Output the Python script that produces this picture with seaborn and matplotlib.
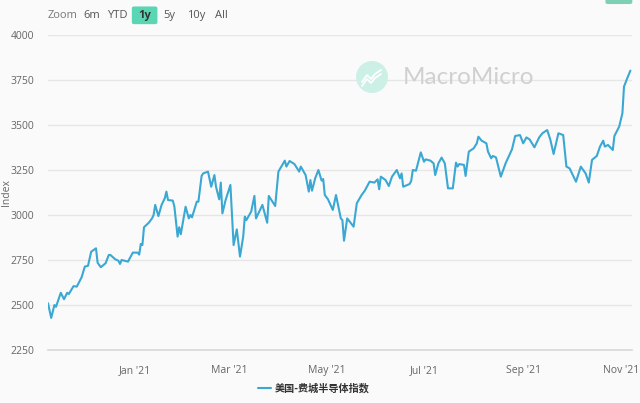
import pandas as pd
import seaborn as sns
import matplotlib.pyplot as plt
import matplotlib.dates as mdates
from matplotlib.patches import Ellipse, FancyBboxPatch
from matplotlib.lines import Line2D

# 美国-费城半导体指数
dates = [
    "2020-11-08", "2020-11-10", "2020-11-12", "2020-11-13", "2020-11-16", "2020-11-18",
    "2020-11-20", "2020-11-21", "2020-11-24", "2020-11-26", "2020-11-29", "2020-12-01",
    "2020-12-03", "2020-12-05", "2020-12-08", "2020-12-09", "2020-12-11", "2020-12-14",
    "2020-12-16", "2020-12-17", "2020-12-20", "2020-12-22", "2020-12-23", "2020-12-24",
    "2020-12-28", "2020-12-31", "2021-01-03", "2021-01-04", "2021-01-05", "2021-01-06",
    "2021-01-07", "2021-01-10", "2021-01-12", "2021-01-13", "2021-01-14", "2021-01-16",
    "2021-01-18", "2021-01-20", "2021-01-21", "2021-01-22", "2021-01-25", "2021-01-26",
    "2021-01-28", "2021-01-29", "2021-01-30", "2021-02-02", "2021-02-04", "2021-02-05",
    "2021-02-06", "2021-02-09", "2021-02-10", "2021-02-12", "2021-02-13", "2021-02-16",
    "2021-02-18", "2021-02-20", "2021-02-21", "2021-02-23", "2021-02-24", "2021-02-25",
    "2021-02-27", "2021-03-02", "2021-03-04", "2021-03-06", "2021-03-08", "2021-03-10",
    "2021-03-11", "2021-03-12", "2021-03-15", "2021-03-17", "2021-03-18", "2021-03-22",
    "2021-03-25", "2021-03-26", "2021-03-30", "2021-04-01", "2021-04-05", "2021-04-06",
    "2021-04-08", "2021-04-11", "2021-04-14", "2021-04-15", "2021-04-18", "2021-04-20",
    "2021-04-21", "2021-04-22", "2021-04-24", "2021-04-26", "2021-04-28", "2021-04-29",
    "2021-04-30", "2021-05-02", "2021-05-05", "2021-05-07", "2021-05-10", "2021-05-11",
    "2021-05-12", "2021-05-14", "2021-05-18", "2021-05-20", "2021-05-23", "2021-05-25",
    "2021-05-28", "2021-05-31", "2021-06-02", "2021-06-03", "2021-06-04", "2021-06-07",
    "2021-06-09", "2021-06-11", "2021-06-14", "2021-06-16", "2021-06-17", "2021-06-18",
    "2021-06-22", "2021-06-23", "2021-06-24", "2021-06-26", "2021-06-29", "2021-07-01",
    "2021-07-02", "2021-07-05", "2021-07-07", "2021-07-08", "2021-07-10", "2021-07-12",
    "2021-07-14", "2021-07-16", "2021-07-19", "2021-07-21", "2021-07-22", "2021-07-23",
    "2021-07-26", "2021-07-27", "2021-07-29", "2021-08-01", "2021-08-03", "2021-08-04",
    "2021-08-06", "2021-08-09", "2021-08-10", "2021-08-12", "2021-08-13", "2021-08-15",
    "2021-08-18", "2021-08-21", "2021-08-24", "2021-08-25", "2021-08-27", "2021-08-30",
    "2021-09-01", "2021-09-03", "2021-09-05", "2021-09-08", "2021-09-11", "2021-09-13",
    "2021-09-16", "2021-09-18", "2021-09-20", "2021-09-23", "2021-09-26", "2021-09-28",
    "2021-09-30", "2021-10-04", "2021-10-07", "2021-10-10", "2021-10-12", "2021-10-14",
    "2021-10-17", "2021-10-19", "2021-10-21", "2021-10-22", "2021-10-24", "2021-10-27",
    "2021-10-28", "2021-10-31", "2021-11-02", "2021-11-03", "2021-11-05", "2021-11-07",
]
values = [
    2510, 2428, 2500, 2490, 2568, 2532, 2568, 2561, 2605, 2602, 2654, 2713,
    2718, 2796, 2815, 2735, 2710, 2732, 2778, 2778, 2754, 2746, 2728, 2750,
    2741, 2791, 2791, 2780, 2839, 2833, 2932, 2957, 2981, 3000, 3056, 2994,
    3056, 3093, 3130, 3083, 3080, 3046, 2880, 2932, 2893, 3046, 2981, 3000,
    2987, 3074, 3074, 3217, 3231, 3241, 3157, 3222, 3157, 3087, 3180, 3009,
    3083, 3167, 2833, 2920, 2769, 2880, 2991, 2972, 3019, 3106, 2981, 3056,
    2957, 3106, 3050, 3241, 3302, 3269, 3300, 3283, 3241, 3269, 3222, 3130,
    3194, 3135, 3204, 3250, 3191, 3200, 3111, 3087, 3028, 3111, 2981, 2972,
    2857, 2981, 2935, 3065, 3111, 3135, 3185, 3180, 3198, 3143, 3213, 3194,
    3161, 3213, 3250, 3204, 3231, 3157, 3172, 3189, 3250, 3246, 3348, 3296,
    3309, 3302, 3287, 3222, 3287, 3319, 3287, 3148, 3148, 3291, 3269, 3283,
    3278, 3217, 3352, 3370, 3398, 3435, 3413, 3398, 3352, 3315, 3328, 3320,
    3213, 3287, 3346, 3365, 3439, 3444, 3398, 3431, 3420, 3376, 3431, 3454,
    3472, 3417, 3339, 3454, 3444, 3269, 3259, 3185, 3269, 3231, 3180, 3306,
    3328, 3380, 3413, 3380, 3389, 3361, 3439, 3491, 3565, 3713, 3759, 3802,
]
y_ticks = [2250, 2500, 2750, 3000, 3250, 3500, 3750, 4000]
x_ticks = ["2021-01-01", "2021-03-01", "2021-05-01", "2021-07-01", "2021-09-01", "2021-11-01"]
series_name = "美国-费城半导体指数"
range_buttons = ["6m", "YTD", "1y", "5y", "10y", "All"]

df = pd.DataFrame({"date": pd.to_datetime(dates), "value": values, "series": series_name})

sns.set_theme(style="white")
plt.rcParams["font.family"] = ["Open Sans", "Noto Sans CJK SC", "DejaVu Sans"]

fig = plt.figure(figsize=(6.4, 4.03), dpi=100, facecolor="#fafafa")
ax = fig.add_axes([0.075, 0.1315, 0.9125, 0.7817])
ax.set_facecolor("#fafafa")

sns.lineplot(data=df, x="date", y="value", hue="series", palette=["#3aa8d3"],
             linewidth=1.5, ax=ax)

ax.set_ylim(2250, 4000)
ax.set_xlim(pd.Timestamp("2020-11-08"), pd.Timestamp("2021-11-08"))
ax.set_yticks(y_ticks)
ax.set_xticks(pd.to_datetime(x_ticks))
ax.xaxis.set_major_formatter(mdates.DateFormatter("%b '%y"))
ax.grid(axis="y", color="#e6e6e6", linewidth=1)
ax.set_axisbelow(True)
for s in ["top", "right", "left"]:
    ax.spines[s].set_visible(False)
ax.spines["bottom"].set_color("#d8d8d8")
ax.spines["bottom"].set_linewidth(1.2)
ax.tick_params(axis="x", colors="#666666", labelsize=7.5, length=5, width=0.8,
               direction="out", pad=6)
ax.tick_params(axis="x", color="#d8d8d8")
ax.tick_params(axis="y", colors="#666666", labelsize=7.5, length=0, pad=10)
ax.set_xlabel("")
ax.set_ylabel("Index", color="#666666", fontsize=7.5)
ax.yaxis.set_label_coords(-0.062, 0.5)

leg = ax.legend(loc="center", bbox_to_anchor=(0.455, -0.121), frameon=False,
                handlelength=1.3, handletextpad=0.4, borderaxespad=0,
                prop={"family": ["Noto Sans CJK SC", "DejaVu Sans"], "size": 7.3,
                      "weight": "bold"})
for t in leg.get_texts():
    t.set_color("#333333")

# range selector at the top
fig.text(0.075, 0.962, "Zoom", fontsize=8, color="#777777", va="center")
btn_x = [0.143, 0.184, 0.222, 0.265, 0.306, 0.346]
for name, bx in zip(range_buttons, btn_x):
    if name == "1y":
        fig.patches.append(FancyBboxPatch((bx - 0.016, 0.94), 0.04, 0.044,
                                          boxstyle="round,pad=0,rounding_size=0.004",
                                          transform=fig.transFigure,
                                          facecolor="#5ad6b4", edgecolor="none"))
        fig.text(bx + 0.004, 0.962, name, fontsize=8, color="#333333",
                 fontweight="bold", va="center", ha="center")
    else:
        fig.text(bx, 0.962, name, fontsize=8, color="#555555", va="center",
                 ha="center")
fig.patches.append(FancyBboxPatch((0.946, 0.99), 0.042, 0.03,
                                  boxstyle="round,pad=0,rounding_size=0.004",
                                  transform=fig.transFigure,
                                  facecolor="#7fcfb5", edgecolor="none"))

# watermark logo and name
cx, cy = 372 / 640, 1 - 77 / 403
fig.patches.append(Ellipse((cx, cy), 32 / 640, 32 / 403, transform=fig.transFigure,
                           facecolor="#cdf0e6", edgecolor="none", zorder=0.5))
zx = [cx + d / 640 for d in (-10, -5, -1, 3, 9)]
zy1 = [cy + d / 403 for d in (-5, 2, -2, 3, 7)]
zy2 = [cy + d / 403 for d in (-9, -2, -6, -1, 3)]
fig.add_artist(Line2D(zx, zy1, color="white", linewidth=1.3, transform=fig.transFigure))
fig.add_artist(Line2D(zx, zy2, color="white", linewidth=1.3, transform=fig.transFigure))
fig.text(403 / 640, cy, "MacroMicro", fontsize=17.5, color="#d0d0d0", va="center",
         family="Lato")

fig.savefig("out.png", dpi=100, facecolor=fig.get_facecolor())
